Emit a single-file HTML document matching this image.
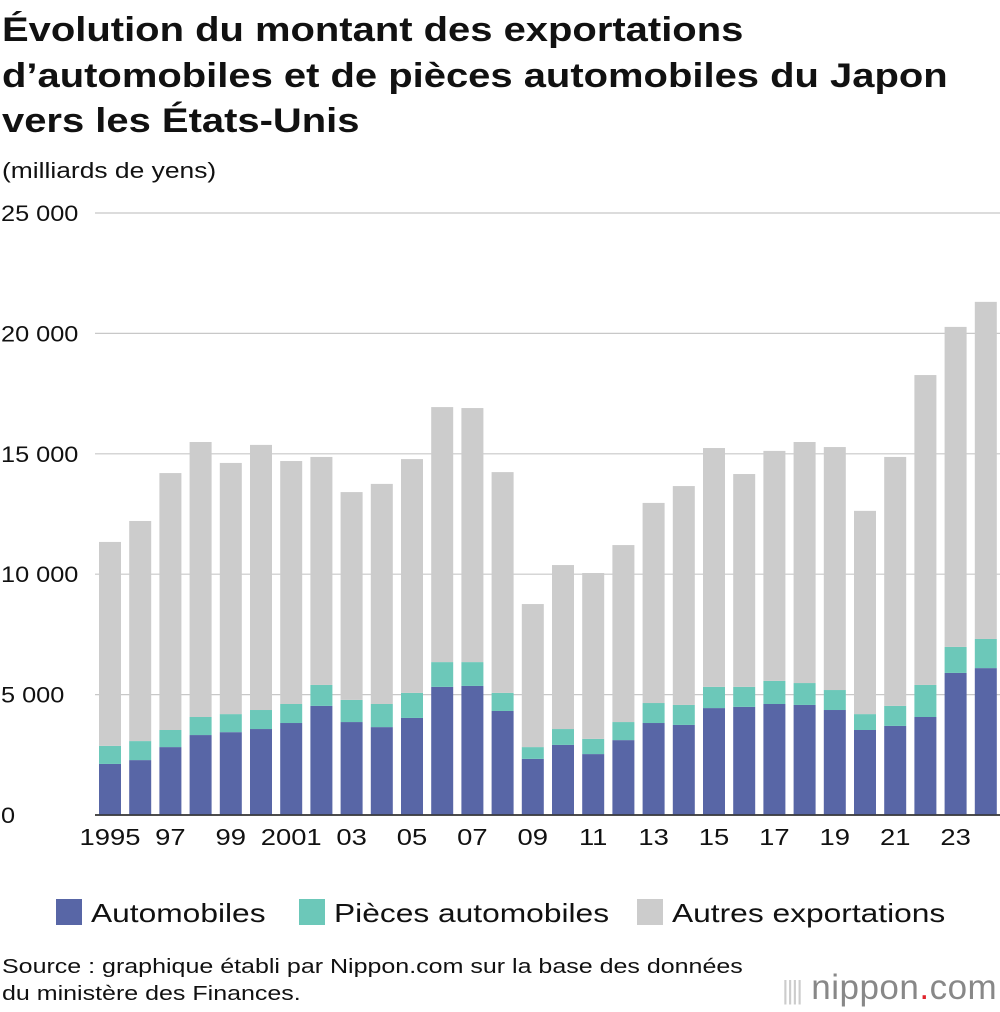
<!DOCTYPE html>
<html><head><meta charset="utf-8">
<style>
body{margin:0;background:#fff;font-family:"Liberation Sans",Arial,sans-serif;}
#wrap{position:relative;width:1000px;height:1012px;overflow:hidden;}
.t{position:absolute;left:2px;margin:0;transform-origin:0 0;white-space:nowrap;}
</style></head>
<body>
<div id="wrap">
<div class="t" style="top:8px;font-size:34px;font-weight:bold;line-height:45.5px;color:#111;transform:scaleX(1.175);">Évolution du montant des exportations<br>d’automobiles et de pièces automobiles du Japon<br>vers les États-Unis</div>
<div class="t" style="top:158px;font-size:22px;color:#111;transform:scaleX(1.2);">(milliards de yens)</div>
<svg id="chart" width="1000" height="1012" style="position:absolute;left:0;top:0"></svg>
<div class="t" style="top:954px;font-size:20px;line-height:27px;color:#111;transform:scaleX(1.25);">Source : graphique établi par Nippon.com sur la base des données<br>du ministère des Finances.</div>
<div style="position:absolute;left:782px;top:968px;font-size:35px;color:#888;letter-spacing:0.5px;white-space:nowrap;"><span style="color:#ccc;font-size:26px;letter-spacing:-2px;">||||</span> nippon<span style="color:#e0242c">.</span>com</div>
</div>
<script>
const years=[1995,1996,1997,1998,1999,2000,2001,2002,2003,2004,2005,2006,2007,2008,2009,2010,2011,2012,2013,2014,2015,2016,2017,2018,2019,2020,2021,2022,2023,2024];
const automobiles=[2120,2280,2820,3320,3440,3570,3820,4530,3860,3650,4030,5320,5360,4320,2330,2910,2530,3110,3820,3740,4440,4490,4610,4570,4360,3530,3700,4070,5900,6100];
const pieces=[750,790,710,750,750,790,790,870,920,960,1040,1030,990,750,490,660,630,750,830,830,880,830,960,910,830,660,830,1330,1080,1210];
const autres=[8470,9140,10670,11420,10430,11010,10090,9470,8630,9140,9710,10590,10550,9170,5940,6810,6890,7350,8310,9090,9920,8840,9550,10010,10090,8440,10340,12870,13290,14000];
const yTicks=[0,5000,10000,15000,20000,25000];
const yTickLabels=["0","5 000","10 000","15 000","20 000","25 000"];
const xLabels=["1995","97","99","2001","03","05","07","09","11","13","15","17","19","21","23"];
const legendLabels=["Automobiles","Pièces automobiles","Autres exportations"];
const colors=["#5866a6","#6cc8b9","#cccccc"];
const svg=document.getElementById('chart');
const NS='http://www.w3.org/2000/svg';
const y0=815,yTop=213,vMax=25000,x0=110,step=30.2,bw=22;
const yS=v=>y0-(v/vMax)*(y0-yTop);
const xS=i=>x0+i*step;
function mk(tag,a){const e=document.createElementNS(NS,tag);for(const k in a)e.setAttribute(k,a[k]);svg.appendChild(e);return e;}
function stretch(el,f){const w=el.getComputedTextLength();el.setAttribute('textLength',w*f);el.setAttribute('lengthAdjust','spacingAndGlyphs');}
yTicks.forEach((t,i)=>{
 const l=mk('line',{x1:95,x2:1000,y1:yS(t),y2:yS(t),stroke:i===0?'#333':'#c8c8c8','stroke-width':i===0?1.5:1.2});
 
 
 const tx=mk('text',{x:1,y:yS(t)+8,'font-size':22,fill:'#111'});
 tx.textContent=yTickLabels[i];
 
 
 stretch(tx,1.15);
});
years.forEach((yr,i)=>{
 const segs=[automobiles[i],pieces[i],autres[i]];let base=0;
 segs.forEach((v,s)=>{
  const r=mk('rect',{x:xS(i)-bw/2,y:yS(base+v),width:bw,height:yS(base)-yS(base+v),fill:colors[s]});
  
  
  base+=v;
 });
});
mk('line',{x1:95,x2:1000,y1:y0,y2:y0,stroke:'#333','stroke-width':1.5});
xLabels.forEach((lb,k)=>{
 const t=mk('text',{x:xS(k*2),y:845,'font-size':23,'text-anchor':'middle',fill:'#111'});
 t.textContent=lb;
 
 
 stretch(t,1.19);
});
const lx=[56,299,637];
legendLabels.forEach((lb,k)=>{
 const r=mk('rect',{x:lx[k],y:899,width:26,height:26,fill:colors[k]});
 
 
 const t=mk('text',{x:lx[k]+35,y:922,'font-size':26,fill:'#111'});
 t.textContent=lb;
 
 
 stretch(t,1.22);
});
</script>
</body></html>
